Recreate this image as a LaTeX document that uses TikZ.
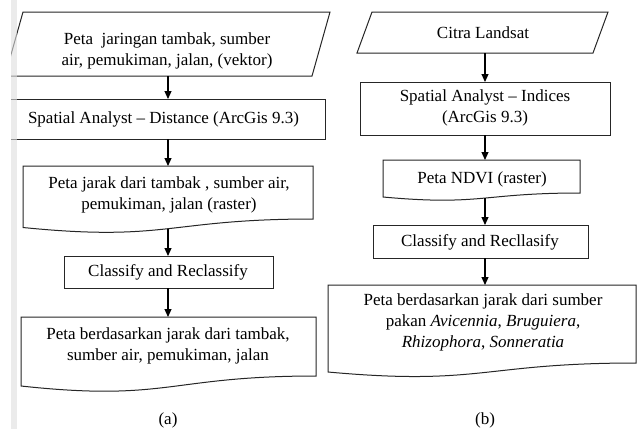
\documentclass[tikz,border=0pt]{standalone}
\usepackage{fontspec}
\setmainfont{Liberation Serif}
\usetikzlibrary{arrows.meta}
\begin{document}
\begin{tikzpicture}[x=1pt,y=-1pt,
  box/.style={draw=black!85,line width=1pt},
  txt/.style={align=center,font=\fontsize{17}{21}\selectfont,inner sep=0pt,text=black},
  arr/.style={draw=black,line width=1.1pt,-{Triangle[length=8pt,width=7pt]}}]
\useasboundingbox (0,0) rectangle (637,429);
\fill[white] (0,0) rectangle (637,429);

% ---------- left column (a) ----------
\draw[box] (23,12) -- (330,12) -- (312,76) -- (5,76) -- cycle;
\node[txt] (p1) at (167,51) {Peta~ jaringan tambak, sumber\\air, pemukiman, jalan, (vektor)};

\draw[box] (2,99) rectangle (325,139);
\node[txt] (r1) at (163.5,119) {Spatial Analyst -- Distance (ArcGis 9.3)};

\draw[box] (23,166) -- (313,166) -- (313,219) .. controls (168,219) and (168,242) .. (23,227.5) -- cycle;
\node[txt] (d1) at (169,195) {Peta jarak dari tambak , sumber air,\\pemukiman, jalan (raster)};

\draw[box] (64,256) rectangle (273,288);
\node[txt] (r2) at (168,272) {Classify and Reclassify};

\draw[box] (21,317) -- (316,317) -- (316,376) .. controls (168.5,376) and (168.5,402) .. (21,386) -- cycle;
\node[txt] (d2) at (168,346) {Peta berdasarkan jarak dari tambak,\\sumber air, pemukiman, jalan};

\node[txt] (capa) at (168,420) {(a)};

\coordinate (a1s) at (168,76);  \coordinate (a1e) at (168,99);
\coordinate (a2s) at (168,139); \coordinate (a2e) at (168,166);
\coordinate (a3s) at (168,229); \coordinate (a3e) at (168,256);
\coordinate (a4s) at (168,288); \coordinate (a4e) at (168,317);
\draw[arr] (a1s) -- (a1e);
\draw[arr] (a2s) -- (a2e);
\draw[arr] (a3s) -- (a3e);
\draw[arr] (a4s) -- (a4e);

% ---------- right column (b) ----------
\draw[box] (372,12) -- (608,12) -- (593,53) -- (357,53) -- cycle;
\node[txt] (p2) at (483,33) {Citra Landsat};

\draw[box] (360,82) rectangle (610,135);
\node[txt] (r3) at (485,108) {Spatial Analyst -- Indices\\(ArcGis 9.3)};

\draw[box] (383,160) -- (580,160) -- (580,193) .. controls (481.5,193) and (481.5,206) .. (383,197) -- cycle;
\node[txt] (d3) at (482,179) {Peta NDVI (raster)};

\draw[box] (373,225) rectangle (588,258);
\node[txt] (r4) at (480,242) {Classify and Recllasify};

\draw[box] (328,285) -- (636,285) -- (636,363) .. controls (482,363) and (482,386) .. (328,372) -- cycle;
\node[txt] (d4) at (483,322) {Peta berdasarkan jarak dari sumber\\pakan \textit{Avicennia}, \textit{Bruguiera},\\\textit{Rhizophora}, \textit{Sonneratia}};

\node[txt] (capb) at (485,420) {(b)};

\coordinate (b1s) at (485,53);  \coordinate (b1e) at (485,82);
\coordinate (b2s) at (485,135); \coordinate (b2e) at (485,160);
\coordinate (b3s) at (485,198); \coordinate (b3e) at (485,225);
\coordinate (b4s) at (485,258); \coordinate (b4e) at (485,285);
\draw[arr] (b1s) -- (b1e);
\draw[arr] (b2s) -- (b2e);
\draw[arr] (b3s) -- (b3e);
\draw[arr] (b4s) -- (b4e);

% ---------- cropped left edge and grey strip ----------
\fill[white] (0,0) rectangle (11,429);
\fill[gray!25,opacity=0.6] (11,0) rectangle (17,429);
\end{tikzpicture}
\end{document}
